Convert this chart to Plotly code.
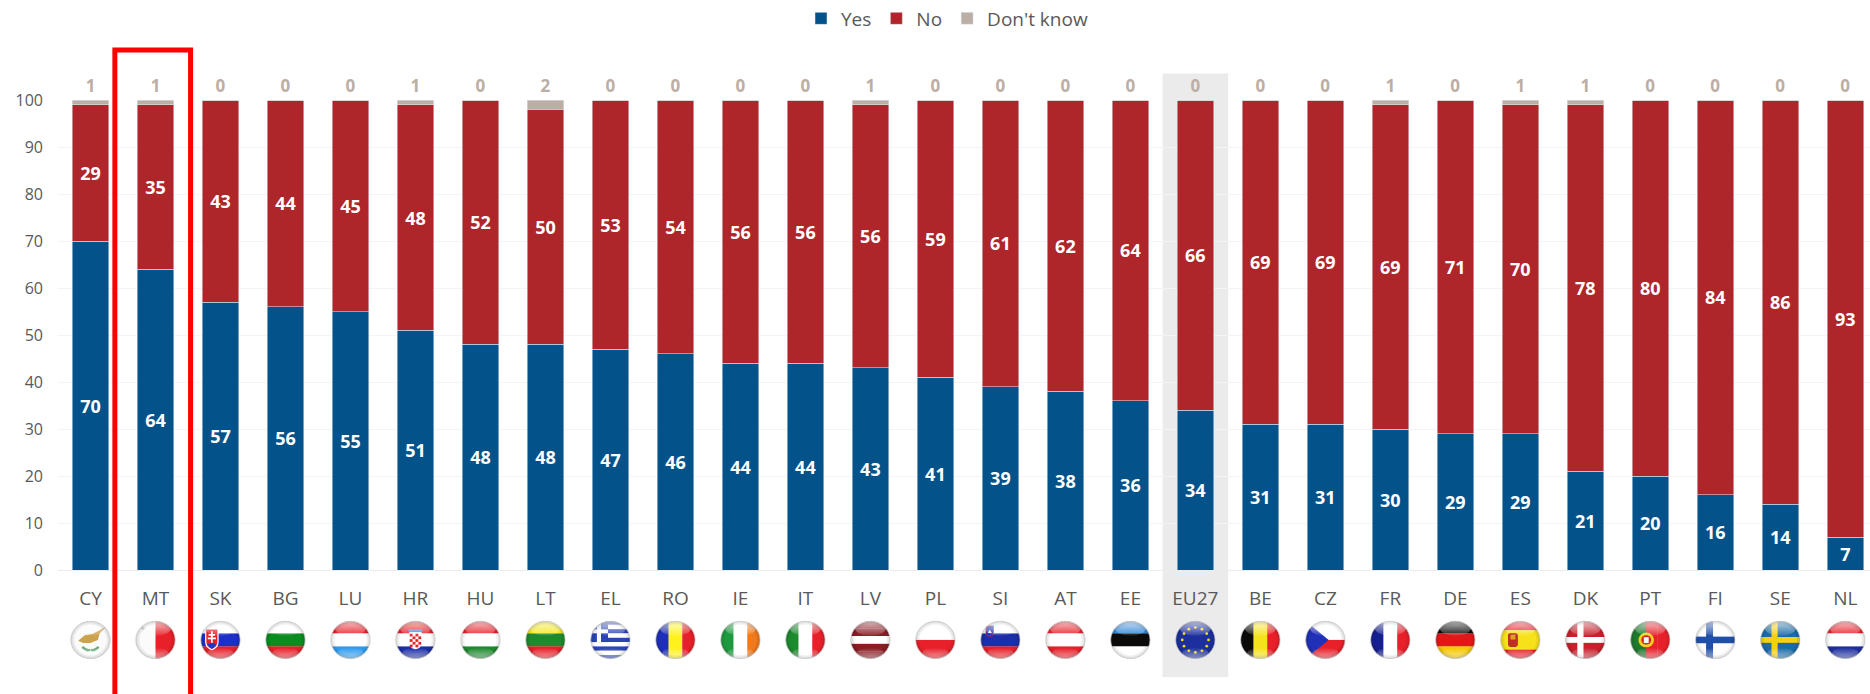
import base64
import plotly.graph_objects as go

# Survey results per country, sorted by the share answering "Yes"
countries = ["CY", "MT", "SK", "BG", "LU", "HR", "HU", "LT", "EL", "RO", "IE", "IT", "LV", "PL",
             "SI", "AT", "EE", "EU27", "BE", "CZ", "FR", "DE", "ES", "DK", "PT", "FI", "SE", "NL"]
yes = [70, 64, 57, 56, 55, 51, 48, 48, 47, 46, 44, 44, 43, 41, 39, 38, 36, 34, 31, 31, 30, 29, 29, 21, 20, 16, 14, 7]
no = [29, 35, 43, 44, 45, 48, 52, 50, 53, 54, 56, 56, 56, 59, 61, 62, 64, 66, 69, 69, 69, 71, 70, 78, 80, 84, 86, 93]
dont_know = [1, 1, 0, 0, 0, 1, 0, 2, 0, 0, 0, 0, 1, 0, 0, 0, 0, 0, 0, 0, 1, 0, 1, 1, 0, 0, 0, 0]

BLUE, RED, TAN = "#03528a", "#ae252a", "#bcaea5"
FONT = "Open Sans"
GREY = "#595959"

WIDTH, HEIGHT = 1870, 694
M_LEFT, M_RIGHT, M_TOP, M_BOTTOM = 58, 0, 99.5, 124
X_RANGE = [-0.5, 27.38]
PLOT_W = WIDTH - M_LEFT - M_RIGHT
PLOT_H = HEIGHT - M_TOP - M_BOTTOM


def px_y(p):
    return (HEIGHT - M_BOTTOM - p) / PLOT_H


# Flag artwork: simple vector shapes on a 100x100 canvas
def h(*cols):
    n = len(cols)
    return "".join(f'<rect x="0" y="{i*100/n}" width="100" height="{100/n+0.5}" fill="{c}"/>' for i, c in enumerate(cols))


def v(*cols):
    n = len(cols)
    return "".join(f'<rect x="{i*100/n}" y="0" width="{100/n+0.5}" height="100" fill="{c}"/>' for i, c in enumerate(cols))


def cross(bg, fg, cx=38, w=16):
    return (f'<rect width="100" height="100" fill="{bg}"/>'
            f'<rect x="{cx-w/2}" width="{w}" height="100" fill="{fg}"/>'
            f'<rect y="{50-w/2}" width="100" height="{w}" fill="{fg}"/>')


def eu_stars():
    # Twelve stars placed on the clock positions
    pts = [(50, 18), (66, 22.3), (77.7, 34), (82, 50), (77.7, 66), (66, 77.7),
           (50, 82), (34, 77.7), (22.3, 66), (18, 50), (22.3, 34), (34, 22.3)]
    return '<rect width="100" height="100" fill="#1c2f9c"/>' + "".join(
        f'<circle cx="{x}" cy="{y}" r="3.4" fill="#f5d90a"/>' for x, y in pts)


def greece():
    s = "".join(f'<rect y="{i*100/9}" width="100" height="11.2" fill="{"#2b45b5" if i % 2 == 0 else "#ffffff"}"/>' for i in range(9))
    return (s + '<rect width="44" height="55.5" fill="#2b45b5"/>'
            '<rect x="17" width="10" height="55.5" fill="#fff"/><rect y="23" width="44" height="10" fill="#fff"/>')


def croatia():
    cells = "".join(f'<rect x="{36+c*7}" y="{34+r*7}" width="7" height="7" fill="#e8202a"/>'
                    for r in range(5) for c in range(4) if (r + c) % 2 == 0)
    return (h("#e8202a", "#ffffff", "#1d2fa8")
            + '<path d="M35 28 H65 V58 Q65 72 50 74 Q35 72 35 58 Z" fill="#fff"/>' + cells
            + '<rect x="33" y="22" width="34" height="8" fill="#4f86d8"/>')


FLAGS = {
    "CY": '<rect width="100" height="100" fill="#fbfbfb"/>'
          '<path d="M20 52 L36 38 L56 34 L90 14 L72 34 L68 50 L50 58 L32 58 Z" fill="#cda24e"/>'
          '<path d="M30 68 Q42 80 49 75 M70 68 Q58 80 51 75" stroke="#6fae80" stroke-width="6" fill="none"/>',
    "MT": v("#fbfbfb", "#e8202a") + '<path d="M14 20 h10 M19 15 v10" stroke="#b9b0b0" stroke-width="3"/>',
    "SK": h("#ffffff", "#1d2fc8", "#e8202a")
          + '<path d="M14 22 H44 V55 Q44 70 29 75 Q14 70 14 55 Z" fill="#e8202a" stroke="#fff" stroke-width="3"/>'
          + '<path d="M29 28 V58 M21 37 H37 M19 46 H39" stroke="#fff" stroke-width="4"/>'
          + '<path d="M18 62 Q29 52 40 62 Q36 70 29 73 Q22 70 18 62Z" fill="#2038c8"/>',
    "BG": h("#ffffff", "#0b8c1e", "#e8202a"),
    "LU": h("#e8202a", "#ffffff", "#2d9cf0"),
    "HR": croatia(),
    "HU": h("#e8202a", "#ffffff", "#1e8a2e"),
    "LT": h("#f4e81c", "#1e8a2e", "#e8202a"),
    "EL": greece(),
    "RO": v("#1d2fb8", "#fff21c", "#e8202a"),
    "IE": v("#1e9a3e", "#ffffff", "#f07a1c"),
    "IT": v("#1e8a2e", "#ffffff", "#e8202a"),
    "LV": h("#8a1c24", "#8a1c24", "#ffffff", "#8a1c24", "#8a1c24"),
    "PL": h("#ffffff", "#e8202a"),
    "SI": h("#ffffff", "#1d2fa8", "#e8202a")
          + '<path d="M15 14 H33 V36 Q24 46 15 36 Z" fill="#2038c8" stroke="#e8202a" stroke-width="2"/>'
          + '<path d="M19 32 L24 24 L29 32 Z" fill="#fff"/>',
    "AT": h("#e8202a", "#ffffff", "#e8202a"),
    "EE": h("#2f86d8", "#0a0a0a", "#ffffff"),
    "EU27": eu_stars(),
    "BE": v("#0a0a0a", "#f5e11c", "#e8202a"),
    "CZ": h("#ffffff", "#e8202a") + '<path d="M0 0 L58 50 L0 100 Z" fill="#2030b8"/>',
    "FR": v("#15208f", "#ffffff", "#e8202a"),
    "DE": h("#0a0a0a", "#e01818", "#f5c800"),
    "ES": h("#e8202a", "#f7e21a", "#f7e21a", "#e8202a")
          + '<rect x="20" y="32" width="24" height="36" rx="6" fill="#c03020"/>'
          + '<rect x="26" y="37" width="12" height="12" fill="#e0a020"/>',
    "DK": cross("#c8202c", "#ffffff", 38, 15),
    "PT": v("#1e7a2e", "#e8202a", "#e8202a") + '<rect width="40" height="100" fill="#1e7a2e"/>'
          + '<circle cx="40" cy="50" r="19" fill="#f0d020"/><circle cx="40" cy="50" r="12" fill="#d02020"/>'
          + '<rect x="34" y="43" width="12" height="15" fill="#fff"/>',
    "FI": cross("#ffffff", "#1f4fa8", 36, 17),
    "SE": cross("#1a6ca8", "#f5d010", 36, 15),
    "NL": h("#e8202a", "#ffffff", "#1d2fa0"),
}

GLOSS = (
    '<defs>'
    '<clipPath id="c"><ellipse cx="50" cy="50" rx="48" ry="48"/></clipPath>'
    '<linearGradient id="t" x1="0" y1="0" x2="0" y2="1">'
    '<stop offset="0" stop-color="#fff" stop-opacity=".75"/><stop offset="1" stop-color="#fff" stop-opacity=".08"/></linearGradient>'
    '<linearGradient id="b" x1="0" y1="1" x2="0" y2="0">'
    '<stop offset="0" stop-color="#fff" stop-opacity=".55"/><stop offset="1" stop-color="#fff" stop-opacity="0"/></linearGradient>'
    '<radialGradient id="r" cx=".5" cy=".5" r=".5">'
    '<stop offset=".78" stop-color="#000" stop-opacity="0"/><stop offset="1" stop-color="#000" stop-opacity=".16"/></radialGradient>'
    '</defs>'
)


def flag_uri(code):
    svg = (f'<svg xmlns="http://www.w3.org/2000/svg" viewBox="0 0 100 100" preserveAspectRatio="none">{GLOSS}'
           f'<g clip-path="url(#c)">{FLAGS[code]}'
           '<ellipse cx="50" cy="20" rx="38" ry="19" fill="url(#t)"/>'
           '<ellipse cx="50" cy="84" rx="32" ry="14" fill="url(#b)"/>'
           '<ellipse cx="50" cy="50" rx="48" ry="48" fill="url(#r)"/></g>'
           '<ellipse cx="50" cy="50" rx="48" ry="48" fill="none" stroke="#c4c4c4" stroke-width="2"/></svg>')
    return "data:image/svg+xml;base64," + base64.b64encode(svg.encode()).decode()


fig = go.Figure()
fig.add_bar(name="Yes", x=countries, y=yes, marker_color=BLUE, text=yes, textposition="inside",
            insidetextanchor="middle", textangle=0,
            textfont=dict(family=FONT, size=18, color="white", weight="bold"))
fig.add_bar(name="No", x=countries, y=no, marker_color=RED, text=no, textposition="inside",
            insidetextanchor="middle", textangle=0,
            textfont=dict(family=FONT, size=18, color="white", weight="bold"))
fig.add_bar(name="Don't know", x=countries, y=dont_know, marker_color=TAN, text=dont_know,
            textposition="outside", textangle=0, cliponaxis=False,
            textfont=dict(family=FONT, size=17, color=TAN, weight="bold"))

images = []
for i, code in enumerate(countries):
    images.append(dict(
        source=flag_uri(code), xref="paper", yref="paper",
        x=(i - X_RANGE[0]) / (X_RANGE[1] - X_RANGE[0]), y=px_y(640),
        sizex=41 / PLOT_W, sizey=39 / PLOT_H, xanchor="center", yanchor="middle",
        sizing="stretch", layer="above",
    ))

eu_index = countries.index("EU27")
mt_index = countries.index("MT")
shapes = [
    # Highlight band behind the EU average
    dict(type="rect", xref="x", yref="paper", layer="below",
         x0=eu_index - 0.505, x1=eu_index + 0.505, y0=px_y(677), y1=px_y(73),
         fillcolor="#ebebeb", line_width=0),
    # Frame around Malta
    dict(type="rect", xref="x", yref="paper", layer="above",
         x0=mt_index - 0.625, x1=mt_index + 0.54, y0=px_y(720), y1=px_y(49.5),
         fillcolor="rgba(0,0,0,0)", line=dict(color="#ff0000", width=5)),
]

fig.update_layout(
    width=WIDTH, height=HEIGHT, autosize=False,
    margin=dict(l=M_LEFT, r=M_RIGHT, t=M_TOP, b=M_BOTTOM, pad=0),
    barmode="stack", bargap=0.44, plot_bgcolor="rgba(0,0,0,0)", paper_bgcolor="white",
    font=dict(family=FONT, color=GREY),
    uniformtext=dict(mode=False),
    # Placed against the page so the legend does not push the plot margins
    legend=dict(orientation="h", xref="container", yref="container",
                x=947 / WIDTH, y=1 - 18.5 / HEIGHT, xanchor="center", yanchor="middle",
                font=dict(size=19, color=GREY), traceorder="normal", itemwidth=30,
                bgcolor="rgba(0,0,0,0)"),
    xaxis=dict(type="category", range=X_RANGE, tickfont=dict(size=19, color=GREY),
               ticks="", ticklabelstandoff=15, showgrid=False, showline=False, zeroline=False,
               tickangle=0, categoryorder="array", categoryarray=countries),
    yaxis=dict(range=[0, 100], tick0=0, dtick=10, tickfont=dict(size=16, color=GREY),
               ticks="", ticklabelstandoff=14, showgrid=True, gridcolor="#f4f4f4", gridwidth=1,
               zeroline=True, zerolinecolor="#ececec", zerolinewidth=1, showline=False),
    images=images, shapes=shapes,
)

fig.write_html("out.html")
